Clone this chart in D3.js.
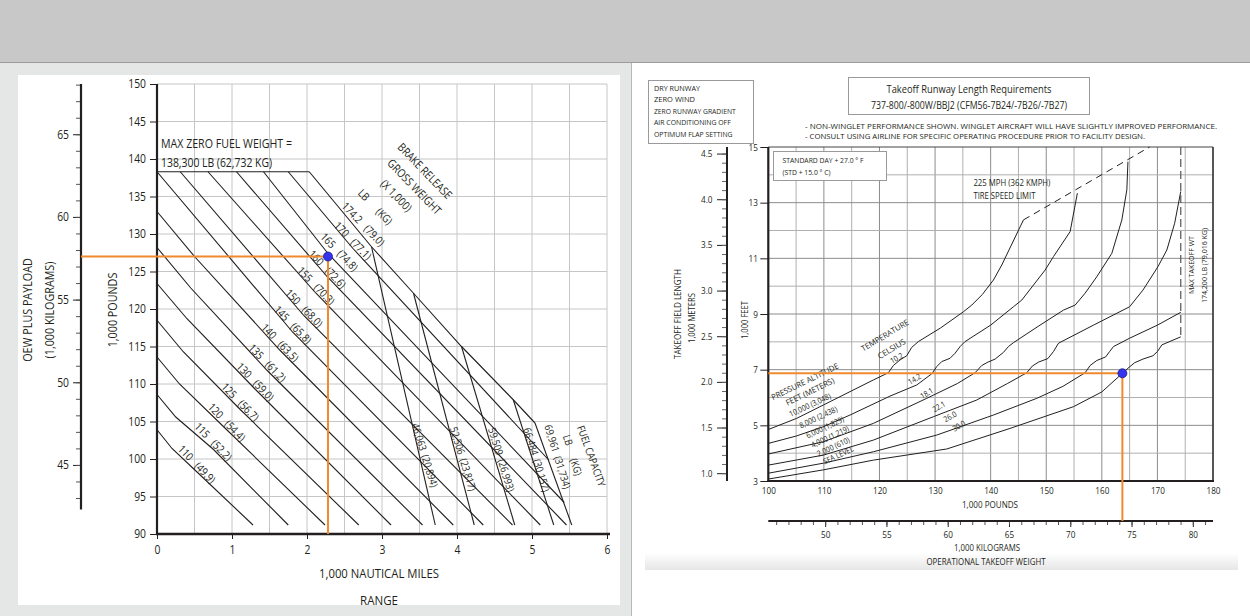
<!DOCTYPE html>
<html>
<head>
<meta charset="utf-8">
<title>Payload range / takeoff runway length</title>
<script src="https://cdn.jsdelivr.net/npm/d3@7"></script>
<style>
  body { margin: 0; background: #fff; }
  svg text { font-family: "Open Sans", "Noto Sans", sans-serif; fill: #231f20; }
</style>
</head>
<body>
<svg id="chart" width="1250" height="616"></svg>
<script>
// ---------- payload / range (left chart) ----------
const rangeTicks = [0, 1, 2, 3, 4, 5, 6];
const poundTicks = [90, 95, 100, 105, 110, 115, 120, 125, 130, 135, 140, 145, 150];
const kilogramTicks = [45, 50, 55, 60, 65];

const grossWeightsLb = ['110', '115', '120', '125', '130', '135', '140', '145', '150', '155', '160', '165', '170', '174.2'];
const grossWeightsKg = ['(49.9)', '(52.2)', '(54.4)', '(56.7)', '(59.0)', '(61.2)', '(63.5)', '(65.8)', '(68.0)', '(70.3)', '(72.6)', '(74.8)', '(77.1)', '(79.0)'];
// [range 1,000 nm, OEW + payload 1,000 lb]
const grossWeightLines = [
  [[0, 103.9], [0.2, 101.4], [0.53, 98.3], [1.28, 91.2]],
  [[0, 108.6], [0.25, 105.6], [0.75, 101.3], [1.75, 91.2]],
  [[0, 113.6], [0.3, 110.0], [0.93, 103.9], [2.24, 91.2]],
  [[0, 118.5], [0.35, 114.3], [1.11, 106.6], [2.69, 91.2]],
  [[0, 123.4], [0.4, 118.7], [1.31, 109.3], [3.12, 91.2]],
  [[0, 128.2], [0.45, 122.8], [1.47, 111.8], [3.54, 91.2]],
  [[0, 133.0], [0.5, 127.0], [1.64, 114.5], [3.95, 91.2]],
  [[0, 138.3], [1.81, 116.9], [4.35, 91.2]],
  [[0.31, 138.3], [1.96, 119.1], [4.74, 91.2]],
  [[0.68, 138.3], [2.12, 122.1], [5.11, 91.2]],
  [[1.06, 138.3], [2.27, 124.3], [5.46, 91.2]],
  [[1.42, 138.3], [2.28, 127.4], [5.43, 94.2]],
  [[1.75, 138.3], [2.61, 128.1], [5.22, 99.9]],
  [[2.03, 138.3], [2.86, 128.3], [3.42, 122.1], [4.06, 115.0], [4.75, 107.9], [5.04, 104.8]]
];

const fuelCapacityLb = ['46,063', '52,506', '59,509', '66,484', '69,961'];
const fuelCapacityKg = ['(20,894)', '(23,817)', '(26,993)', '(30,157)', '(31,734)'];
const fuelCapacityLines = [
  [[2.86, 128.3], [3.71, 91.2]],
  [[3.42, 122.1], [4.23, 91.2]],
  [[4.06, 115.0], [4.77, 91.2]],
  [[4.75, 107.9], [5.29, 91.2]],
  [[5.04, 104.8], [5.53, 91.2]]
];

const maxZeroFuelWeight = [[0, 138.3], [2.03, 138.3]];
const payloadRangePoint = [2.28, 127.0];

// ---------- takeoff runway length (right chart) ----------
const weightTicksLb = [100, 110, 120, 130, 140, 150, 160, 170, 180];
const weightTicksKg = [50, 55, 60, 65, 70, 75, 80];
const lengthTicksFeet = [3, 5, 7, 9, 11, 13, 15];
const lengthTicksMeters = [1.0, 1.5, 2.0, 2.5, 3.0, 3.5, 4.0, 4.5];

const runwayConditions = ['DRY RUNWAY', 'ZERO WIND', 'ZERO RUNWAY GRADIENT', 'AIR CONDITIONING OFF', 'OPTIMUM FLAP SETTING'];
const pressureAltitudes = ['10,000 (3,048)', '8,000 (2,438)', '6,000 (1,829)', '4,000 (1,219)', '2,000 (610)', 'SEA LEVEL'];
const temperaturesC = ['10.2', '14.2', '18.1', '22.1', '26.0', '30.0'];
// [takeoff weight 1,000 lb, field length 1,000 ft]
const takeoffCurves = [
  [[100, 4.85], [105.1, 5.25], [109.9, 5.73], [114.7, 6.21], [118.9, 6.63], [121.6, 6.89], [122.5, 7.15], [123.7, 7.35],
   [124.9, 7.5], [125.8, 7.8], [127.0, 8.01], [131, 8.5], [135.1, 9.08], [136.6, 9.32], [138.5, 9.7], [140.5, 10.22],
   [142, 10.76], [145.9, 12.38]],
  [[100, 4.35], [105.1, 4.62], [109.9, 4.95], [114.7, 5.37], [121.9, 6.05], [126.7, 6.45], [129.4, 6.85], [130.3, 7.11],
   [131.2, 7.29], [132.7, 7.41], [133.6, 7.59], [134.5, 7.83], [135.4, 8.01], [140, 8.6], [144.1, 9.26], [145.6, 9.5],
   [149.8, 10.58], [151.3, 11.06], [154.3, 11.96], [155.6, 13.34]],
  [[100, 3.97], [109.9, 4.41], [118.9, 5.07], [128.5, 5.97], [134, 6.5], [137.2, 6.89], [138.4, 7.15], [139.5, 7.27],
   [140.8, 7.38], [142.3, 7.62], [143.2, 7.83], [144.1, 7.97], [148.5, 8.55], [153.1, 9.14], [155.2, 9.32], [157, 9.75],
   [159.1, 10.34], [161.8, 11.18], [163.6, 12.38], [164.5, 13.46], [164.7, 14.47]],
  [[100, 3.57], [109.9, 3.93], [118.9, 4.47], [129.7, 5.31], [137.5, 5.91], [143, 6.5], [146.5, 6.89], [147.5, 7.13],
   [148.6, 7.27], [150.3, 7.4], [151.3, 7.65], [152.2, 7.95], [158.5, 8.6], [165.0, 9.26], [167.4, 9.86], [170.1, 10.7],
   [171.7, 11.3], [173.1, 12.26], [174.2, 13.4]],
  [[100, 3.28], [109.9, 3.64], [118.9, 4.05], [130.3, 4.65], [140.5, 5.37], [148.3, 5.97], [153, 6.4], [157, 6.89],
   [157.9, 7.15], [159.1, 7.33], [160.7, 7.46], [161.4, 7.65], [162.1, 7.83], [165, 8.13], [170, 8.6], [174.2, 9.06]],
  [[100, 3.07], [109.9, 3.4], [118.9, 3.75], [132.1, 4.15], [143.5, 4.89], [154.9, 5.67], [160, 6.2], [163.7, 6.87],
   [164.7, 7.05], [165.9, 7.25], [167.4, 7.38], [169.2, 7.5], [170, 7.65], [170.8, 7.89], [174.2, 8.18]]
];
const tireSpeedLimit = [[145.9, 12.38], [168.6, 15]];
const maxTakeoffLine = [[174.2, 15], [174.2, 8.18]];
const takeoffPoint = [163.7, 6.87];

// ---------- drawing ----------
const ink = '#231f20';
const orange = '#f08a2c';
const LB_PER_KG = 2.20462;
const FT_PER_M = 3.28084;
const svg = d3.select('#chart');

function txt(g, str, x, y, o = {}) {
  const t = g.append('text')
    .attr('x', x).attr('y', y)
    .attr('dy', '0.35em')
    .attr('text-anchor', o.anchor || 'middle')
    .attr('font-size', o.size || 12)
    .style('white-space', 'pre')
    .text(str);
  if (o.rotate) t.attr('transform', `rotate(${o.rotate} ${x} ${y})`);
  if (o.width) t.attr('textLength', o.width).attr('lengthAdjust', 'spacingAndGlyphs');
  return t;
}

// page background
const defs = svg.append('defs');
const grad = defs.append('linearGradient').attr('id', 'shade').attr('x1', 0).attr('x2', 0).attr('y1', 0).attr('y2', 1);
grad.append('stop').attr('offset', '0%').attr('stop-color', '#ffffff');
grad.append('stop').attr('offset', '100%').attr('stop-color', '#e6e6e6');

svg.append('rect').attr('width', 1250).attr('height', 616).attr('fill', '#fff');
svg.append('rect').attr('width', 1250).attr('height', 62).attr('fill', '#c8c8c8');
svg.append('line').attr('x1', 0).attr('x2', 1250).attr('y1', 62.5).attr('y2', 62.5).attr('stroke', '#9c9c9c');
svg.append('rect').attr('x', 0).attr('y', 63).attr('width', 631).attr('height', 553).attr('fill', '#e5e7e7');
svg.append('rect').attr('x', 18).attr('y', 75).attr('width', 602).attr('height', 530).attr('fill', '#fff');
svg.append('line').attr('x1', 631.5).attr('x2', 631.5).attr('y1', 63).attr('y2', 616).attr('stroke', '#b8b8b8');
svg.append('rect').attr('x', 645).attr('y', 553).attr('width', 593).attr('height', 17).attr('fill', 'url(#shade)');

// ===== left chart =====
const xL = d3.scaleLinear().domain([0, 6]).range([157, 607]);
const yL = d3.scaleLinear().domain([90, 150]).range([534, 84]);
const yKg = d3.scaleLinear().domain([90 / LB_PER_KG, 150 / LB_PER_KG]).range([534, 84]);
const left = svg.append('g');

// grid
left.append('g').selectAll('line').data(xL.ticks(12).filter(d => d > 0)).join('line')
  .attr('x1', d => xL(d)).attr('x2', d => xL(d)).attr('y1', yL(150)).attr('y2', yL(90))
  .attr('stroke', '#c6c6c6');
left.append('g').selectAll('line').data(poundTicks.filter(d => d > 90)).join('line')
  .attr('x1', xL(0)).attr('x2', xL(6)).attr('y1', d => yL(d)).attr('y2', d => yL(d))
  .attr('stroke', '#c6c6c6');

// pound axis
const axL = left.append('g').attr('transform', `translate(${xL(0)},0)`).attr('color', ink)
  .call(d3.axisLeft(yL).tickValues(poundTicks).tickSize(7).tickPadding(4));
axL.select('.domain').remove();
axL.selectAll('text').attr('font-size', 12);
left.append('line').attr('x1', xL(0)).attr('x2', xL(0)).attr('y1', yL(150)).attr('y2', yL(90) + 1)
  .attr('stroke', ink).attr('stroke-width', 2.2);

// range axis
const axB = left.append('g').attr('transform', `translate(0,${yL(90)})`).attr('color', ink)
  .call(d3.axisBottom(xL).tickValues(rangeTicks).tickSize(5).tickPadding(6).tickFormat(d3.format('d')));
axB.select('.domain').remove();
axB.selectAll('text').attr('font-size', 12);
left.append('line').attr('x1', xL(0) - 1).attr('x2', 610).attr('y1', yL(90)).attr('y2', yL(90))
  .attr('stroke', ink).attr('stroke-width', 2.5);

// kilogram axis
const kgX = 81;
const axK = left.append('g').attr('transform', `translate(${kgX},0)`).attr('color', ink)
  .call(d3.axisLeft(yKg).tickValues(kilogramTicks).tickSize(8).tickPadding(4));
axK.select('.domain').remove();
axK.selectAll('text').attr('font-size', 12);
const axK2 = left.append('g').attr('transform', `translate(${kgX},0)`).attr('color', '#555')
  .call(d3.axisLeft(yKg).tickValues(d3.range(43, 69)).tickSize(5).tickFormat(''));
axK2.select('.domain').remove();
left.append('line').attr('x1', kgX).attr('x2', kgX).attr('y1', yL(150)).attr('y2', yKg(42.3))
  .attr('stroke', ink).attr('stroke-width', 2.2);

// axis titles
txt(left, 'OEW PLUS PAYLOAD', 28, 310, { rotate: -90, size: 12.5 });
txt(left, '(1,000 KILOGRAMS)', 50, 310, { rotate: -90, size: 12.5 });
txt(left, '1,000 POUNDS', 113, 310, { rotate: -90, size: 12.5 });
txt(left, '1,000 NAUTICAL MILES', 379, 574, { size: 12.5, width: 120 });
txt(left, 'RANGE', 379, 601, { size: 12.5, width: 38 });

// max zero fuel weight
const lineL = d3.line().x(d => xL(d[0])).y(d => yL(d[1]));
left.append('path').attr('d', lineL(maxZeroFuelWeight)).attr('fill', 'none').attr('stroke', ink).attr('stroke-width', 1.1);
txt(left, 'MAX ZERO FUEL WEIGHT =', xL(0) + 4, 144, { anchor: 'start', size: 12, width: 131 });
txt(left, '138,300 LB (62,732 KG)', xL(0) + 4, 163, { anchor: 'start', size: 12, width: 111 });

// gross weight and fuel capacity lines
left.append('g').selectAll('path').data(grossWeightLines).join('path')
  .attr('d', lineL).attr('fill', 'none').attr('stroke', ink).attr('stroke-width', 1.1);
left.append('g').selectAll('path').data(fuelCapacityLines).join('path')
  .attr('d', lineL).attr('fill', 'none').attr('stroke', ink).attr('stroke-width', 1.1);

// line labels (positions are layout only)
const gwLabelAt = [[0.53, 99.3], [0.75, 102.3], [0.93, 104.9], [1.11, 107.6], [1.31, 110.3], [1.47, 112.8], [1.64, 115.5],
  [1.81, 117.9], [1.96, 120.1], [2.12, 123.1], [2.27, 125.3], [2.43, 127.6], [2.61, 129.1], [2.75, 131.3]];
grossWeightsLb.forEach((w, i) => {
  txt(left, `${w}   ${grossWeightsKg[i]}`, xL(gwLabelAt[i][0]), yL(gwLabelAt[i][1]), { rotate: 46, size: 11 });
});
txt(left, 'LB      (KG)', xL(2.91), yL(133.6), { rotate: 46, size: 11 });
txt(left, '(X 1,000)', xL(3.19), yL(135.1), { rotate: 46, size: 11.5 });
txt(left, 'GROSS WEIGHT', xL(3.43), yL(136.3), { rotate: 46, size: 11.5 });
txt(left, 'BRAKE RELEASE', xL(3.57), yL(138.4), { rotate: 46, size: 11.5 });

const fuelLabelAt = [[3.57, 100.5], [4.08, 100.0], [4.59, 99.9], [5.06, 99.9], [5.34, 100.3]];
fuelCapacityLb.forEach((f, i) => {
  txt(left, `${f}  ${fuelCapacityKg[i]}`, xL(fuelLabelAt[i][0]), yL(fuelLabelAt[i][1]), { rotate: 73, size: 10.5 });
});
txt(left, 'LB      (KG)', xL(5.54), yL(100.5), { rotate: 73, size: 10.5 });
txt(left, 'FUEL CAPACITY', xL(5.79), yL(100.4), { rotate: 70, size: 10.5 });

// example point
left.append('path')
  .attr('d', d3.line()([[kgX, yL(payloadRangePoint[1])], [xL(payloadRangePoint[0]), yL(payloadRangePoint[1])], [xL(payloadRangePoint[0]), yL(90)]]))
  .attr('fill', 'none').attr('stroke', orange).attr('stroke-width', 2);
left.append('circle').attr('cx', xL(payloadRangePoint[0])).attr('cy', yL(payloadRangePoint[1])).attr('r', 4.5)
  .attr('fill', '#3434ee').attr('stroke', '#1c1c8a').attr('stroke-width', 0.8);

// ===== right chart =====
const xR = d3.scaleLinear().domain([100, 180]).range([768.3, 1213]);
const yR = d3.scaleLinear().domain([3, 15]).range([481, 147]);
const yM = d3.scaleLinear().domain([3 / FT_PER_M, 15 / FT_PER_M]).range([481, 147]);
const xKgR = d3.scaleLinear().domain([100 / LB_PER_KG, 180 / LB_PER_KG]).range([768.3, 1213]);
const right = svg.append('g');

// header boxes
right.append('rect').attr('x', 648.5).attr('y', 80.5).attr('width', 105).attr('height', 63)
  .attr('fill', '#fff').attr('stroke', '#9a9a9a');
const condWidths = [46, 41, 81.7, 76.7, 78.6];
runwayConditions.forEach((c, i) => {
  txt(right, c, 654, 88.5 + i * 11.5, { anchor: 'start', size: 7, width: condWidths[i] });
});
right.append('rect').attr('x', 848.5).attr('y', 77.5).attr('width', 241).attr('height', 37)
  .attr('fill', '#fff').attr('stroke', '#9a9a9a');
txt(right, 'Takeoff Runway Length Requirements', 969, 89, { size: 10.5, width: 165 });
txt(right, '737-800/-800W/BBJ2 (CFM56-7B24/-7B26/-7B27)', 969, 105.5, { size: 10.5, width: 196 });
txt(right, '- NON-WINGLET PERFORMANCE SHOWN. WINGLET AIRCRAFT WILL HAVE SLIGHTLY IMPROVED PERFORMANCE.', 805, 126.5, { anchor: 'start', size: 8, width: 412 });
txt(right, '- CONSULT USING AIRLINE FOR SPECIFIC OPERATING PROCEDURE PRIOR TO FACILITY DESIGN.', 805, 136, { anchor: 'start', size: 8, width: 340 });

// grid
right.append('g').selectAll('line').data(d3.range(105, 180, 5)).join('line')
  .attr('x1', d => xR(d)).attr('x2', d => xR(d)).attr('y1', yR(15)).attr('y2', yR(3))
  .attr('stroke', d => d % 10 === 0 ? '#8c8c8c' : '#b0b0b0');
right.append('g').selectAll('line').data(d3.range(4, 15)).join('line')
  .attr('x1', xR(100)).attr('x2', xR(180)).attr('y1', d => yR(d)).attr('y2', d => yR(d))
  .attr('stroke', d => d % 2 === 1 ? '#8c8c8c' : '#b0b0b0');
right.append('line').attr('x1', xR(100)).attr('x2', xR(180)).attr('y1', yR(15)).attr('y2', yR(15))
  .attr('stroke', '#444').attr('stroke-width', 1.2);
right.append('line').attr('x1', xR(180)).attr('x2', xR(180)).attr('y1', yR(15)).attr('y2', yR(3))
  .attr('stroke', '#444').attr('stroke-width', 1.8);

// info box
right.append('rect').attr('x', 773.5).attr('y', 151.5).attr('width', 113).attr('height', 29)
  .attr('fill', '#fff').attr('stroke', '#9a9a9a');
txt(right, 'STANDARD DAY + 27.0 ° F', 782.5, 160, { anchor: 'start', size: 7.5, width: 81 });
txt(right, '(STD + 15.0 ° C)', 782.5, 172.5, { anchor: 'start', size: 7.5, width: 48 });

// feet axis
const axF = right.append('g').attr('transform', `translate(${xR(100)},0)`).attr('color', ink)
  .call(d3.axisLeft(yR).tickValues(lengthTicksFeet).tickSize(8).tickPadding(2.5));
axF.select('.domain').remove();
axF.selectAll('text').attr('font-size', 9.5);

// meter axis
const mX = 727;
const axM = right.append('g').attr('transform', `translate(${mX},0)`).attr('color', ink)
  .call(d3.axisLeft(yM).tickValues(lengthTicksMeters).tickSize(10).tickPadding(4.5).tickFormat(d3.format('.1f')));
axM.select('.domain').remove();
axM.selectAll('text').attr('font-size', 9.5);
const axM2 = right.append('g').attr('transform', `translate(${mX},0)`).attr('color', '#666')
  .call(d3.axisLeft(yM).tickValues(d3.range(10, 46).map(d => d / 10)).tickSize(5).tickFormat(''));
axM2.select('.domain').remove();
right.append('line').attr('x1', mX).attr('x2', mX).attr('y1', yR(15)).attr('y2', yR(3))
  .attr('stroke', ink).attr('stroke-width', 2);

// pound axis
const axP = right.append('g').attr('transform', `translate(0,${yR(3)})`).attr('color', ink)
  .call(d3.axisBottom(xR).tickValues(weightTicksLb).tickSize(0).tickPadding(6));
axP.select('.domain').remove();
axP.selectAll('text').attr('font-size', 9.5);
right.append('line').attr('x1', xR(100)).attr('x2', xR(100)).attr('y1', yR(15)).attr('y2', yR(3) + 1)
  .attr('stroke', ink).attr('stroke-width', 2.2);
right.append('line').attr('x1', xR(100) - 1).attr('x2', xR(180) + 1).attr('y1', yR(3)).attr('y2', yR(3))
  .attr('stroke', ink).attr('stroke-width', 2.2);

// kilogram axis
const kgY = 521;
const axKR = right.append('g').attr('transform', `translate(0,${kgY})`).attr('color', ink)
  .call(d3.axisBottom(xKgR).tickValues(weightTicksKg).tickSize(6).tickPadding(4.5));
axKR.select('.domain').remove();
axKR.selectAll('text').attr('font-size', 9.5);
const axKR2 = right.append('g').attr('transform', `translate(0,${kgY})`).attr('color', '#555')
  .call(d3.axisBottom(xKgR).tickValues(d3.range(46, 82)).tickSize(4).tickFormat(''));
axKR2.select('.domain').remove();
right.append('line').attr('x1', xR(100)).attr('x2', xR(180)).attr('y1', kgY).attr('y2', kgY)
  .attr('stroke', ink).attr('stroke-width', 2);

// axis titles
txt(right, 'TAKEOFF FIELD LENGTH', 678, 314, { rotate: -90, size: 8.5, width: 90 });
txt(right, '1,000 METERS', 692, 318, { rotate: -90, size: 8.5, width: 50 });
txt(right, '1,000 FEET', 745, 320, { rotate: -90, size: 8.5, width: 38 });
txt(right, '1,000 POUNDS', 990, 505, { size: 8.5, width: 56 });
txt(right, '1,000 KILOGRAMS', 987, 548, { size: 8.5, width: 66 });
txt(right, 'OPERATIONAL TAKEOFF WEIGHT', 986, 562, { size: 8.5, width: 119 });

// curves
const lineR = d3.line().x(d => xR(d[0])).y(d => yR(d[1]));
right.append('g').selectAll('path').data(takeoffCurves).join('path')
  .attr('d', lineR).attr('fill', 'none').attr('stroke', ink).attr('stroke-width', 1);
right.append('path').attr('d', lineR(tireSpeedLimit)).attr('fill', 'none').attr('stroke', ink)
  .attr('stroke-width', 1).attr('stroke-dasharray', '7,5');
right.append('path').attr('d', lineR(maxTakeoffLine)).attr('fill', 'none').attr('stroke', '#555')
  .attr('stroke-width', 1.2).attr('stroke-dasharray', '8,4');

txt(right, '225 MPH (362 KMPH)', xR(136.9), 183, { anchor: 'start', size: 8.5, width: 77 });
txt(right, 'TIRE SPEED LIMIT', xR(136.9), 196, { anchor: 'start', size: 8.5, width: 62 });
txt(right, 'MAX TAKEOFF WT', 1191.5, 265, { rotate: -90, size: 8, width: 58 });
txt(right, '174,200 LB (79,016 KG)', 1204, 265.5, { rotate: -90, size: 8, width: 75 });

// curve labels (layout positions)
txt(right, 'PRESSURE ALTITUDE', xR(106.6), yR(6.57), { rotate: -26, size: 8, width: 74 });
txt(right, 'FEET (METERS)', xR(107.5), yR(6.21), { rotate: -26, size: 8, width: 53 });
const altLabelAt = [[107.5, 5.73], [109.0, 5.29], [110.2, 4.93], [111.1, 4.59], [111.7, 4.23], [112.6, 3.93]];
pressureAltitudes.forEach((a, i) => {
  txt(right, a, xR(altLabelAt[i][0]), yR(altLabelAt[i][1]), { rotate: -25, size: 8 });
});
txt(right, 'TEMPERATURE', xR(121.0), yR(8.23), { rotate: -31, size: 8, width: 54 });
txt(right, 'CELSIUS', xR(122.2), yR(7.75), { rotate: -31, size: 8, width: 31 });
const tempLabelAt = [[123.1, 7.41], [126.3, 6.66], [128.5, 6.15], [130.7, 5.67], [132.7, 5.31], [134.3, 4.98]];
temperaturesC.forEach((t, i) => {
  txt(right, t, xR(tempLabelAt[i][0]), yR(tempLabelAt[i][1]), { rotate: -30, size: 8 });
});

// example point
right.append('path')
  .attr('d', d3.line()([[xR(100), yR(takeoffPoint[1])], [xR(takeoffPoint[0]), yR(takeoffPoint[1])], [xR(takeoffPoint[0]), kgY]]))
  .attr('fill', 'none').attr('stroke', orange).attr('stroke-width', 2);
right.append('circle').attr('cx', xR(takeoffPoint[0])).attr('cy', yR(takeoffPoint[1])).attr('r', 4.5)
  .attr('fill', '#3434ee').attr('stroke', '#1c1c8a').attr('stroke-width', 0.8);

// narrow the remaining text a bit, the original face is condensed
svg.selectAll('text').each(function () {
  if (!this.hasAttribute('textLength')) {
    const w = this.getComputedTextLength();
    if (w > 0) d3.select(this).attr('textLength', w * 0.86).attr('lengthAdjust', 'spacingAndGlyphs');
  }
});
</script>
</body>
</html>
